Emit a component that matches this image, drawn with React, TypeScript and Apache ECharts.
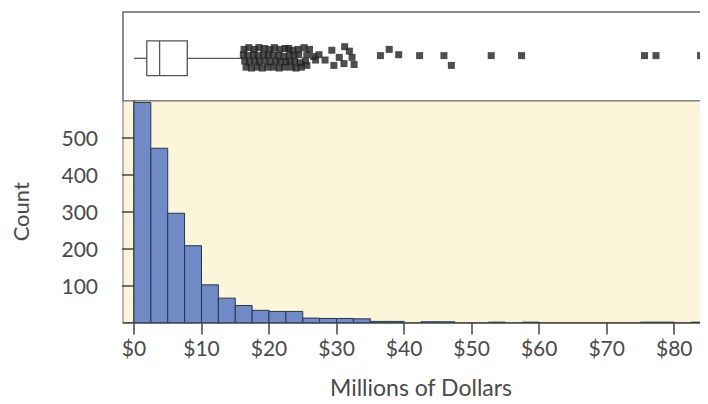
import React, { useEffect, useRef } from "react";
import * as echarts from "echarts";

// Histogram bins (millions of dollars), bin width 2.5
const binStarts = [0, 2.5, 5, 7.5, 10, 12.5, 15, 17.5, 20, 22.5, 25, 27.5, 30, 32.5, 35, 37.5, 42.5, 45, 52.5, 57.5, 75, 77.5, 82.5];
const binCounts = [596, 472, 296, 208, 102, 66, 46, 33, 30, 30, 12, 11, 11, 10, 3, 3, 2, 2, 1, 1, 1, 1, 1];
const binWidth = 2.5;

// Box plot five numbers: lower whisker, Q1, median, Q3, upper whisker
const boxFive = [0, 1.9, 3.8, 7.9, 16.1];

// Outliers (value) and their vertical jitter inside the box-plot panel (0..1)
const outlierValues = [
  16.3, 17.0, 17.8, 18.5, 19.3, 20.1, 20.8, 21.6, 22.4, 22.9, 23.5, 24.3, 25.2, 26.0,
  16.2, 16.9, 17.7, 18.4, 19.2, 19.9, 20.6, 21.4, 22.2, 23.0, 23.7, 24.4, 25.6, 26.6,
  16.4, 17.1, 17.9, 18.6, 19.4, 20.2, 21.0, 21.7, 22.5, 23.1, 23.8, 24.6, 25.4,
  16.6, 17.4, 18.2, 19.0, 19.8, 20.7, 21.5, 22.3, 23.3, 24.0, 24.8, 25.6,
  26.9, 27.4, 28.3, 29.3, 29.6, 30.4, 31.2, 31.1, 31.9, 32.3, 32.6,
  36.5, 37.8, 39.2, 42.3, 45.9, 47.0, 52.9, 57.4, 75.6, 77.3, 83.9,
];
const outlierJitter = [
  0.58, 0.60, 0.58, 0.60, 0.59, 0.58, 0.60, 0.58, 0.59, 0.59, 0.57, 0.58, 0.60, 0.58,
  0.52, 0.51, 0.52, 0.51, 0.52, 0.51, 0.52, 0.51, 0.50, 0.52, 0.51, 0.52, 0.52, 0.50,
  0.45, 0.44, 0.45, 0.44, 0.45, 0.44, 0.45, 0.44, 0.44, 0.45, 0.44, 0.43, 0.45,
  0.38, 0.37, 0.38, 0.37, 0.38, 0.38, 0.37, 0.38, 0.38, 0.37, 0.38, 0.40,
  0.46, 0.52, 0.46, 0.57, 0.40, 0.49, 0.61, 0.42, 0.56, 0.49, 0.41,
  0.51, 0.58, 0.52, 0.51, 0.51, 0.40, 0.51, 0.51, 0.51, 0.51, 0.51,
];

const xTicks = [0, 10, 20, 30, 40, 50, 60, 70, 80];
const yTicks = [100, 200, 300, 400, 500];

const X_MIN = -1.62;
const X_MAX = 85;
const TEXT = "#4a4a4a";
const FONT = "Lato";

export default function App() {
  const ref = useRef<HTMLDivElement>(null);

  useEffect(() => {
    if (!ref.current) return;
    const chart = echarts.init(ref.current, null, { renderer: "svg" });

    const histData = binStarts.map((s, i) => [s, s + binWidth, binCounts[i]]);
    const outlierData = outlierValues.map((v, i) => [v, outlierJitter[i]]);

    chart.setOption({
      animation: false,
      textStyle: { fontFamily: FONT },
      grid: [
        {
          left: 123, top: 12, right: -2, height: 89,
          show: true, backgroundColor: "#ffffff", borderColor: "#666", borderWidth: 1.5,
        },
        {
          left: 123, top: 101, right: -2, bottom: 81.5,
          show: true, backgroundColor: "#FBF6DA", borderColor: "#777", borderWidth: 1,
        },
      ],
      xAxis: [
        {
          gridIndex: 0, type: "value", min: X_MIN, max: X_MAX,
          show: false,
        },
        {
          gridIndex: 1, type: "value", min: X_MIN, max: X_MAX,
          name: "Millions of Dollars", nameLocation: "middle", nameGap: 53,
          nameTextStyle: { fontSize: 23, color: TEXT, fontFamily: FONT, padding: [0, 0, 0, 11] },
          axisLine: { show: true, lineStyle: { color: "#444", width: 1.5 } },
          axisTick: { show: true, length: 12, customValues: xTicks, lineStyle: { color: "#444", width: 1.5 } },
          axisLabel: {
            customValues: xTicks, margin: 14, fontSize: 21, color: TEXT, fontFamily: FONT,
            formatter: (v: number) => "$" + v,
          },
          splitLine: { show: false },
        },
      ],
      yAxis: [
        {
          gridIndex: 0, type: "value", min: 0, max: 1, show: false,
        },
        {
          gridIndex: 1, type: "value", min: 0, max: 600,
          name: "Count", nameLocation: "middle", nameGap: 92, nameRotate: 90,
          nameTextStyle: { fontSize: 22, color: TEXT, fontFamily: FONT },
          axisLine: { show: true, lineStyle: { color: "#444", width: 1.5 } },
          axisTick: { show: true, length: 12, customValues: yTicks, lineStyle: { color: "#444", width: 1.5 } },
          axisLabel: { customValues: yTicks, margin: 25, fontSize: 21, color: TEXT, fontFamily: FONT },
          splitLine: { show: false },
        },
      ],
      series: [
        {
          type: "custom",
          xAxisIndex: 1, yAxisIndex: 1,
          data: histData,
          encode: { x: [0, 1], y: 2 },
          clip: true,
          renderItem: (params: any, api: any) => {
            const p0 = api.coord([api.value(0), 0]);
            const p1 = api.coord([api.value(1), api.value(2)]);
            return {
              type: "rect",
              shape: { x: p0[0], y: p1[1], width: p1[0] - p0[0], height: p0[1] - p1[1] },
              style: { fill: "#6F8AC4", stroke: "#2B3550", lineWidth: 1 },
            };
          },
        },
        {
          type: "custom",
          xAxisIndex: 0, yAxisIndex: 0,
          data: [boxFive],
          encode: { x: [0, 1, 2, 3, 4] },
          renderItem: (params: any, api: any) => {
            const yc = 0.48;
            const half = api.size([0, 0.195])[1];
            const lo = api.coord([api.value(0), yc]);
            const q1 = api.coord([api.value(1), yc]);
            const md = api.coord([api.value(2), yc]);
            const q3 = api.coord([api.value(3), yc]);
            const hi = api.coord([api.value(4), yc]);
            const stroke = { stroke: "#555", lineWidth: 1.3, fill: "none" };
            return {
              type: "group",
              children: [
                { type: "line", shape: { x1: lo[0], y1: lo[1], x2: q1[0], y2: q1[1] }, style: stroke },
                { type: "line", shape: { x1: q3[0], y1: q3[1], x2: hi[0], y2: hi[1] }, style: stroke },
                { type: "rect", shape: { x: q1[0], y: q1[1] - half, width: q3[0] - q1[0], height: half * 2 }, style: { stroke: "#555", lineWidth: 1.3, fill: "#fff" } },
                { type: "line", shape: { x1: md[0], y1: md[1] - half, x2: md[0], y2: md[1] + half }, style: stroke },
              ],
            };
          },
        },
        {
          type: "scatter",
          xAxisIndex: 0, yAxisIndex: 0,
          data: outlierData,
          symbol: "rect",
          symbolSize: 7,
          itemStyle: { color: "#222" },
        },
      ],
    });

    return () => chart.dispose();
  }, []);

  return <div ref={ref} style={{ width: 708, height: 404, margin: -8 }} />;
}
